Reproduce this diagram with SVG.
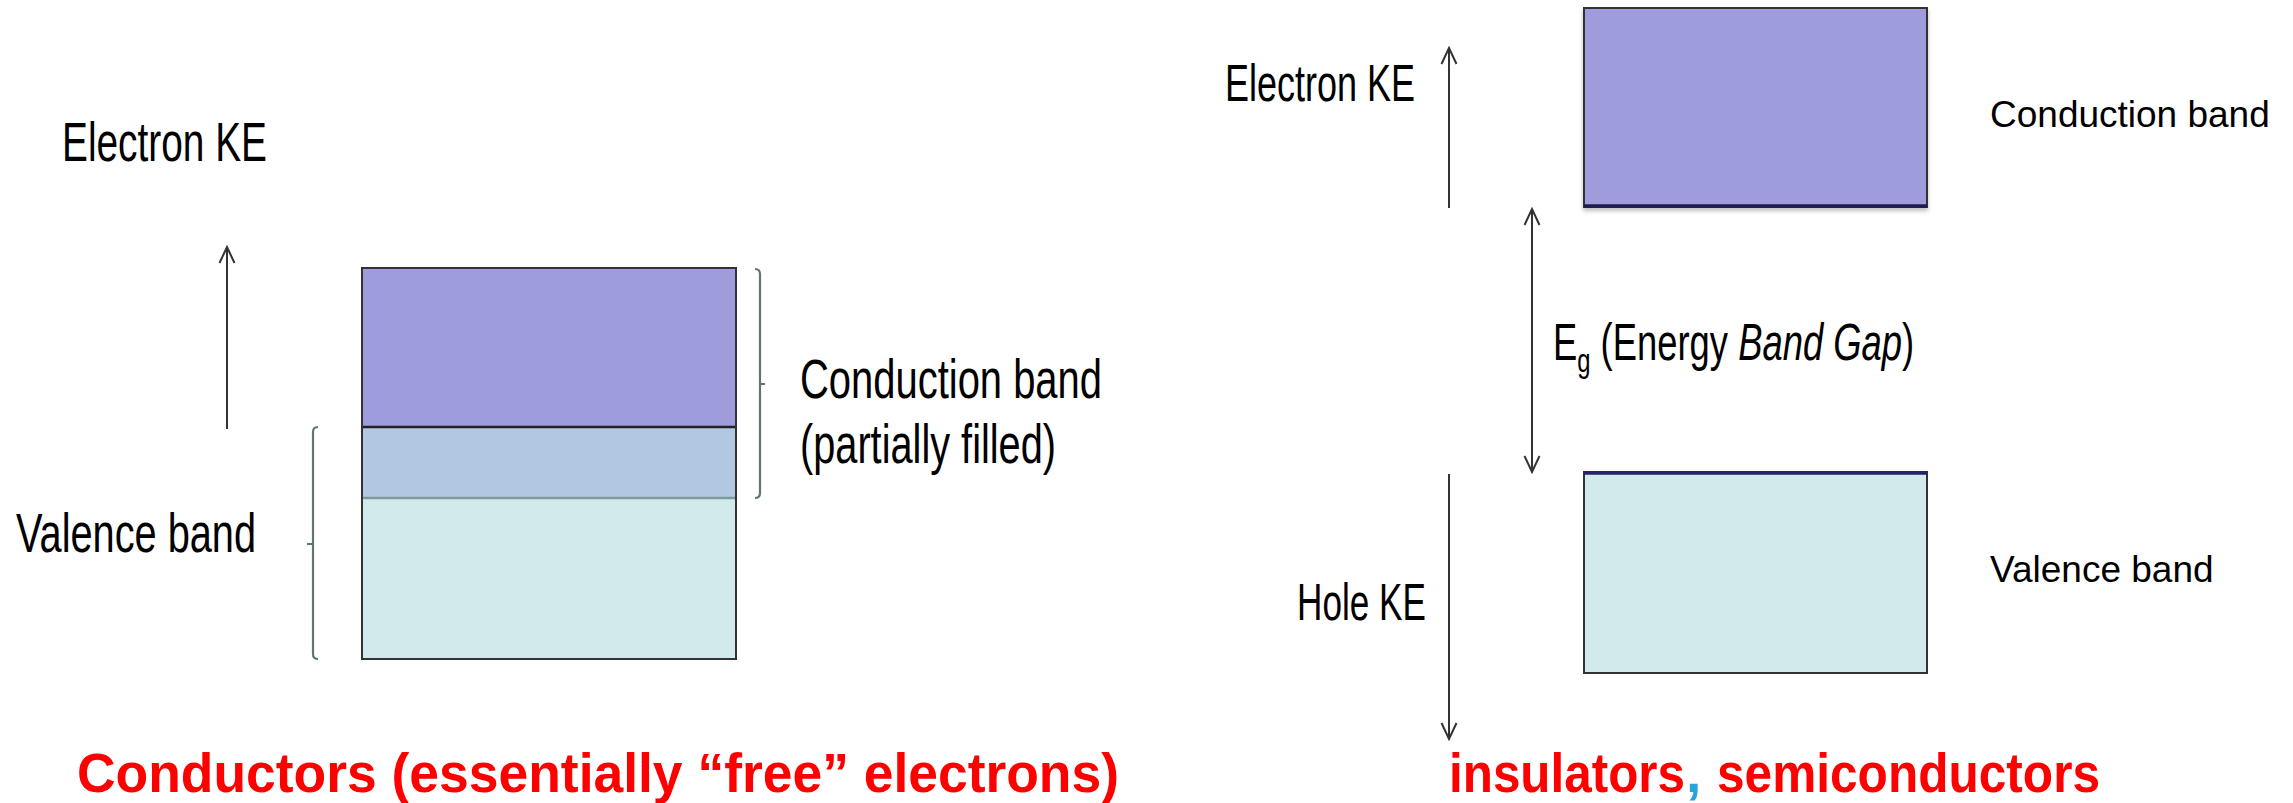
<svg xmlns="http://www.w3.org/2000/svg" width="2293" height="803" viewBox="0 0 2293 803">
  <style>
    .lbl { font-family: "Liberation Sans", Arial, sans-serif; fill: #000; }
    .big { font-size: 55px; }
    .mid { font-size: 52px; }
    .side { font-size: 37px; }
    .red { font-family: "Liberation Sans", Arial, sans-serif; font-weight: bold; font-size: 55px; fill: #ff0000; }
    .edge { stroke: #333; stroke-width: 2; }
    .brk { fill: none; stroke: #607676; stroke-width: 2.2; }
    .arr { fill: none; stroke: #333; stroke-width: 2; }
  </style>
  <defs>
    <marker id="ah" viewBox="-18 -9 20 18" refX="0" refY="0" markerWidth="20" markerHeight="18" markerUnits="userSpaceOnUse" orient="auto-start-reverse">
      <path d="M-16,-7.5 L0,0 L-16,7.5" fill="none" stroke="#333" stroke-width="2"/>
    </marker>
    <filter id="sh" x="-5%" y="-5%" width="110%" height="115%">
      <feDropShadow dx="0" dy="3" stdDeviation="2" flood-color="#000" flood-opacity="0.25"/>
    </filter>
  </defs>
  <rect width="2293" height="803" fill="#fff"/>

  <!-- Left diagram: conductor -->
  <g id="left-bands">
    <rect x="362" y="268" width="374" height="159" fill="#9f9cdc"/>
    <rect x="362" y="427" width="374" height="71" fill="#b2c8e2"/>
    <rect x="362" y="498" width="374" height="161" fill="#d3eaec"/>
    <line x1="362" y1="427" x2="736" y2="427" stroke="#222" stroke-width="2.5"/>
    <line x1="362" y1="498" x2="736" y2="498" stroke="#7f9a9f" stroke-width="2.5"/>
    <rect x="362" y="268" width="374" height="391" fill="none" class="edge"/>
  </g>
  <g id="left-valence-bracket">
    <path class="brk" d="M318,427 Q313,427 313,432 L313,654 Q313,659 318,659 M313,544 L307,544"/>
  </g>
  <g id="left-conduction-bracket">
    <path class="brk" d="M755,269 Q760,269 760,274 L760,493 Q760,498 755,498 M760,384 L765,384"/>
  </g>
  <g id="left-labels">
    <text class="lbl big" x="62" y="161" textLength="205" lengthAdjust="spacingAndGlyphs">Electron KE</text>
    <text class="lbl big" x="16" y="552" textLength="240" lengthAdjust="spacingAndGlyphs">Valence band</text>
    <text class="lbl big" x="800" y="398" textLength="302" lengthAdjust="spacingAndGlyphs">Conduction band</text>
    <text class="lbl big" x="800" y="463" textLength="256" lengthAdjust="spacingAndGlyphs">(partially filled)</text>
  </g>

  <!-- Right diagram: insulator / semiconductor -->
  <g id="right-conduction">
    <rect x="1584" y="8" width="343" height="199" fill="#9f9cdc" stroke="#333" stroke-width="2" filter="url(#sh)"/>
    <line x1="1584" y1="206" x2="1927" y2="206" stroke="#1c1c52" stroke-width="3.5"/>
  </g>
  <g id="right-valence">
    <rect x="1584" y="472" width="343" height="201" fill="#d3eaec" stroke="#333" stroke-width="2"/>
    <line x1="1584" y1="473" x2="1927" y2="473" stroke="#24246a" stroke-width="3.5"/>
  </g>
  <g id="right-labels">
    <text class="lbl mid" x="1225" y="101" textLength="190" lengthAdjust="spacingAndGlyphs">Electron KE</text>
    <text class="lbl mid" x="1297" y="620" textLength="129" lengthAdjust="spacingAndGlyphs">Hole KE</text>
    <g transform="translate(1553,360) scale(0.70,1)">
      <text class="lbl mid" x="0" y="0">E<tspan font-size="34" dy="12">g</tspan><tspan dy="-12"> (Energy </tspan><tspan font-style="italic">Band Gap</tspan>)</text>
    </g>
    <text class="lbl side" x="1990" y="127">Conduction band</text>
    <text class="lbl side" x="1990" y="582">Valence band</text>
  </g>

  <g id="connectors">
    <line class="arr" x1="227" y1="429" x2="227" y2="247" marker-end="url(#ah)"/>
    <line class="arr" x1="1449" y1="208" x2="1449" y2="48" marker-end="url(#ah)"/>
    <line class="arr" x1="1532" y1="209" x2="1532" y2="472" marker-start="url(#ah)" marker-end="url(#ah)"/>
    <line class="arr" x1="1449" y1="474" x2="1449" y2="739" marker-end="url(#ah)"/>
  </g>

  <g id="captions">
    <text class="red" x="77" y="792" textLength="1042" lengthAdjust="spacingAndGlyphs">Conductors (essentially “free” electrons)</text>
    <text class="red" x="1449" y="792" textLength="236" lengthAdjust="spacingAndGlyphs">insulators</text>
    <text class="red" x="1686" y="792" style="fill:#27a4dc">,</text>
    <text class="red" x="1717" y="792" textLength="383" lengthAdjust="spacingAndGlyphs">semiconductors</text>
  </g>
</svg>
